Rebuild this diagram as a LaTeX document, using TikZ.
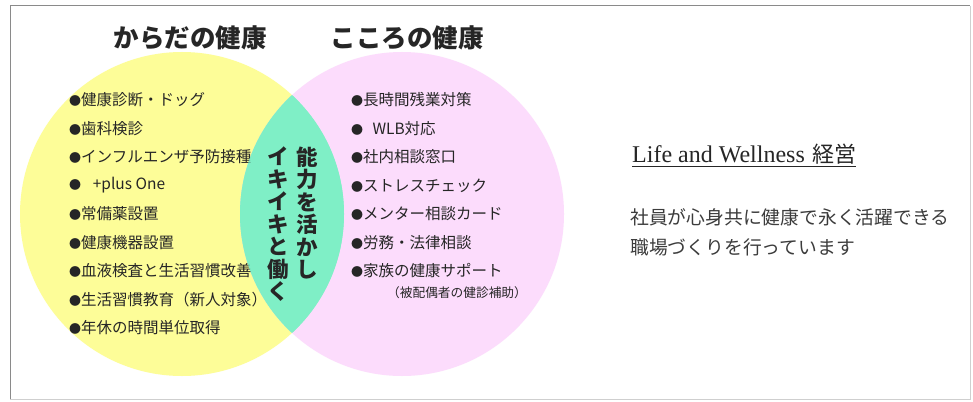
\documentclass[tikz,border=0pt]{standalone}
\usepackage{fontspec}
\newfontfamily\jp{Noto Sans CJK JP}
\newfontfamily\lserif{Liberation Serif}
\definecolor{cyel}{HTML}{FDFD98}
\definecolor{cpink}{HTML}{FCDCFC}
\definecolor{cgreen}{HTML}{7FEFC6}
\definecolor{ctext}{HTML}{262626}
\definecolor{cbody}{HTML}{3C3C3C}
\definecolor{cframe}{HTML}{8A8A8A}
\definecolor{cframel}{HTML}{CFCFCF}
\newcommand{\bul}{{\fontsize{12}{14}\selectfont ●}}
\begin{document}
\begin{tikzpicture}[x=1pt,y=-1pt,
  item/.style={anchor=west, inner sep=0pt, font=\jp\fontsize{15.5}{18}\selectfont, text=ctext},
  note/.style={inner sep=0pt, font=\jp\fontsize{12.7}{15}\selectfont, text=ctext},
  ttl/.style={inner sep=0pt, font=\jp\bfseries\fontsize{25.5}{28}\selectfont, text=ctext},
  vcol/.style={inner sep=0pt, align=center, font=\jp\bfseries\fontsize{21.5}{22.5}\selectfont, text=ctext},
  body/.style={anchor=west, inner sep=0pt, font=\jp\fontsize{18.8}{22}\selectfont, text=cbody},
  ]
\useasboundingbox (0,0) rectangle (973,401);
\fill[white] (0,0) rectangle (973,401);
% frame
\draw[cframel, line width=1pt] (970,6) -- (970,399) -- (10,399);
\draw[cframe, line width=1pt] (10,399) -- (10,6) -- (970,6);
% circles
\fill[cyel] (182,214) circle[radius=162];
\fill[cpink] (402,214) circle[radius=162];
\begin{scope}
  \clip (182,214) circle[radius=162];
  \fill[cgreen] (402,214) circle[radius=162];
\end{scope}
% titles
\node[ttl] (tbody) at (190,38) {からだの健康};
\node[ttl] (tmind) at (407,38) {こころの健康};
% left list
\node[item] (l1) at (69,100)   {\bul 健康診断・ドッグ};
\node[item] (l2) at (69,128.5) {\bul 歯科検診};
\node[item] (l3) at (69,157)   {\bul インフルエンザ予防接種};
\node[item] (l4) at (69,185.5) {\bul\hspace{0.75em}+plus One};
\node[item] (l5) at (69,214)   {\bul 常備薬設置};
\node[item] (l6) at (69,242.5) {\bul 健康機器設置};
\node[item] (l7) at (69,271)   {\bul 血液検査と生活習慣改善};
\node[item] (l8) at (69,299.5) {\bul 生活習慣教育（新人対象）};
\node[item] (l9) at (69,328)   {\bul 年休の時間単位取得};
% right list
\node[item] (r1) at (351,100)   {\bul 長時間残業対策};
\node[item] (r2) at (351,128.5) {\bul\hspace{0.6em}WLB対応};
\node[item] (r3) at (351,157)   {\bul 社内相談窓口};
\node[item] (r4) at (351,185.5) {\bul ストレスチェック};
\node[item] (r5) at (351,214)   {\bul メンター相談カード};
\node[item] (r6) at (351,242.5) {\bul 労務・法律相談};
\node[item] (r7) at (351,271)   {\bul 家族の健康サポート};
\node[note] (r8) at (457,293)   {（被配偶者の健診補助）};
% translucent lens over text
\begin{scope}
  \clip (182,214) circle[radius=162];
  \fill[cgreen, opacity=0.7] (402,214) circle[radius=162];
\end{scope}
% vertical text
\node[vcol] (v1) at (307,213.25) {能\\力\\を\\活\\か\\し};
\node[vcol] (v2) at (278,224.5) {イ\\キ\\イ\\キ\\と\\働\\く};
% right side text
\node[anchor=base west, inner sep=0pt, text=ctext, font=\fontsize{24}{28}\selectfont] (lw) at (632,162) {{\lserif Life and Wellness} {\jp\fontsize{22}{28}\selectfont 経営}};
\draw[ctext, line width=0.9pt] ([yshift=-4.5pt]lw.base west) -- ([yshift=-4.5pt]lw.base east);
\node[body] (b1) at (630,217) {社員が心身共に健康で永く活躍できる};
\node[body] (b2) at (630,247) {職場づくりを行っています};
\end{tikzpicture}
\end{document}
